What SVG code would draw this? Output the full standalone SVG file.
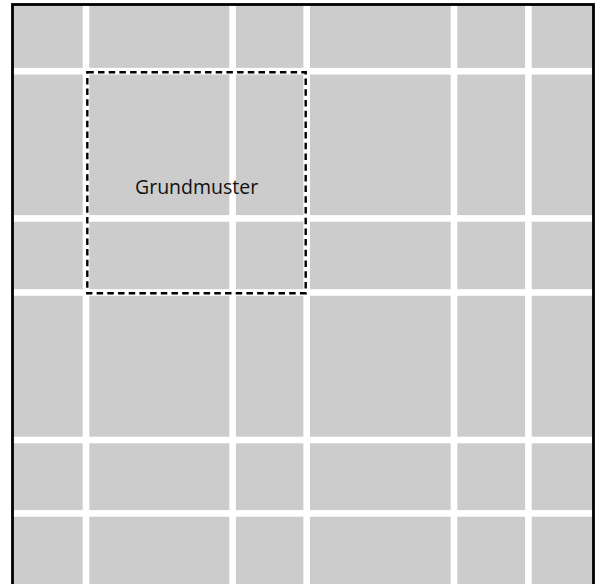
<svg xmlns="http://www.w3.org/2000/svg" width="602" height="584" viewBox="0 0 602 584">
  <style>
    .gap { fill: #ffffff; }
    .lbl { font-family: "Open Sans", "DejaVu Sans", sans-serif; font-size: 19.5px; fill: #111111; }
  </style>
  <rect x="0" y="0" width="602" height="584" fill="#ffffff"/>
  <g id="grid">
    <rect x="12.5" y="4.5" width="581" height="585" fill="#cccccc"/>
    <g id="vertical-gaps">
      <rect class="gap" x="82.7" y="4" width="6.6" height="584"/>
      <rect class="gap" x="229.3" y="4" width="6.6" height="584"/>
      <rect class="gap" x="303.4" y="4" width="6.6" height="584"/>
      <rect class="gap" x="450.7" y="4" width="6.6" height="584"/>
      <rect class="gap" x="525.1" y="4" width="6.6" height="584"/>
    </g>
    <g id="horizontal-gaps">
      <rect class="gap" x="12" y="67.9" width="582" height="6.6"/>
      <rect class="gap" x="12" y="215.1" width="582" height="6.6"/>
      <rect class="gap" x="12" y="289.2" width="582" height="6.6"/>
      <rect class="gap" x="12" y="436.7" width="582" height="6.6"/>
      <rect class="gap" x="12" y="510.1" width="582" height="6.6"/>
    </g>
    <rect id="border" x="12.5" y="4.5" width="581" height="585" fill="none" stroke="#000000" stroke-width="2.8"/>
  </g>
  <g id="grundmuster">
    <rect x="87.3" y="72.3" width="218.4" height="221" fill="none" stroke="#000000" stroke-width="2.4" stroke-dasharray="6.5 4.2"/>
    <text class="lbl" x="135" y="193.5">Grundmuster</text>
  </g>
</svg>
